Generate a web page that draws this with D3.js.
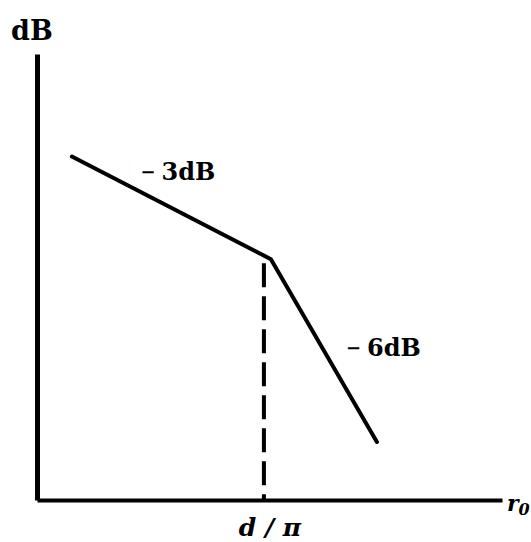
<!DOCTYPE html>
<html>
<head>
<meta charset="utf-8">
<script src="https://cdn.jsdelivr.net/npm/d3@7"></script>
<style>
  html, body { margin: 0; padding: 0; background: #fff; }
  svg { display: block; }
  text { font-family: "DejaVu Serif", "Liberation Serif", serif; fill: #000; }
</style>
</head>
<body>
<svg id="chart" width="531" height="542"></svg>
<script>
// Piecewise attenuation curve: level (dB) against distance
const distance = [7.5, 50.3, 73.1];      // start, corner, end (arbitrary units)
const level = [77, 54, 13];              // dB (arbitrary reference)
const cornerMarker = 48.8;               // distance of the dashed corner marker
const slopeLabels = [["\u2212", "3dB"], ["\u2212", "6dB"]];
const cornerLabel = "d / \u03c0";
const yAxisLabel = "dB";
const xAxisLabel = ["r", "0"];

const svg = d3.select("#chart");

const x = d3.scaleLinear().domain([0, 100]).range([37, 502]);
const y = d3.scaleLinear().domain([0, 100]).range([500, 54]);

// axes: plain lines without ticks
svg.append("g")
  .attr("transform", `translate(0,${y(0)})`)
  .call(d3.axisBottom(x).tickValues([]).tickSizeOuter(0))
  .call(g => g.select(".domain").attr("stroke", "#000").attr("stroke-width", 4));

svg.append("g")
  .attr("transform", `translate(${x(0)},0)`)
  .call(d3.axisLeft(y).tickValues([]).tickSizeOuter(0))
  .call(g => g.select(".domain").attr("stroke", "#000").attr("stroke-width", 5));

// dashed marker from the corner down to the axis
svg.append("line")
  .attr("x1", x(cornerMarker)).attr("x2", x(cornerMarker))
  .attr("y1", y(level[1]) + 4).attr("y2", y(0))
  .attr("stroke", "#000")
  .attr("stroke-width", 4)
  .attr("stroke-dasharray", "24 9");

// attenuation curve
const pts = distance.map((d, i) => [d, level[i]]);
svg.append("path")
  .datum(pts)
  .attr("fill", "none")
  .attr("stroke", "#000")
  .attr("stroke-width", 4)
  .attr("stroke-linecap", "round")
  .attr("stroke-linejoin", "miter")
  .attr("d", d3.line().x(d => x(d[0])).y(d => y(d[1])));

// slope labels, placed beside each segment
const mids = [0, 1].map(i => [
  (x(distance[i]) + x(distance[i + 1])) / 2,
  (y(level[i]) + y(level[i + 1])) / 2
]);
const offsets = [[-31, -28], [22, 5]];

slopeLabels.forEach((lab, i) => {
  const t = svg.append("text")
    .attr("x", mids[i][0] + offsets[i][0])
    .attr("y", mids[i][1] + offsets[i][1])
    .attr("font-size", 24).attr("font-weight", "bold");
  t.append("tspan").attr("font-size", 18).attr("dy", -2).text(lab[0]);
  t.append("tspan").attr("dx", 6).attr("dy", 2).text(lab[1]);
});

// axis labels
svg.append("text")
  .attr("x", 11).attr("y", 40)
  .attr("font-size", 27).attr("font-weight", "bold")
  .text(yAxisLabel);

const xl = svg.append("text")
  .attr("x", 507).attr("y", 511)
  .attr("font-size", 22).attr("font-style", "italic").attr("font-weight", "bold")
  .attr("font-family", "Liberation Serif, serif");
xl.append("tspan").text(xAxisLabel[0]);
xl.append("tspan").attr("font-size", 16).attr("dy", 4).text(xAxisLabel[1]);

svg.append("text")
  .attr("x", x(cornerMarker) + 6).attr("y", 536)
  .attr("text-anchor", "middle")
  .attr("font-size", 25).attr("font-style", "italic").attr("font-weight", "bold")
  .attr("font-family", "Liberation Serif, serif")
  .text(cornerLabel);
</script>
</body>
</html>
